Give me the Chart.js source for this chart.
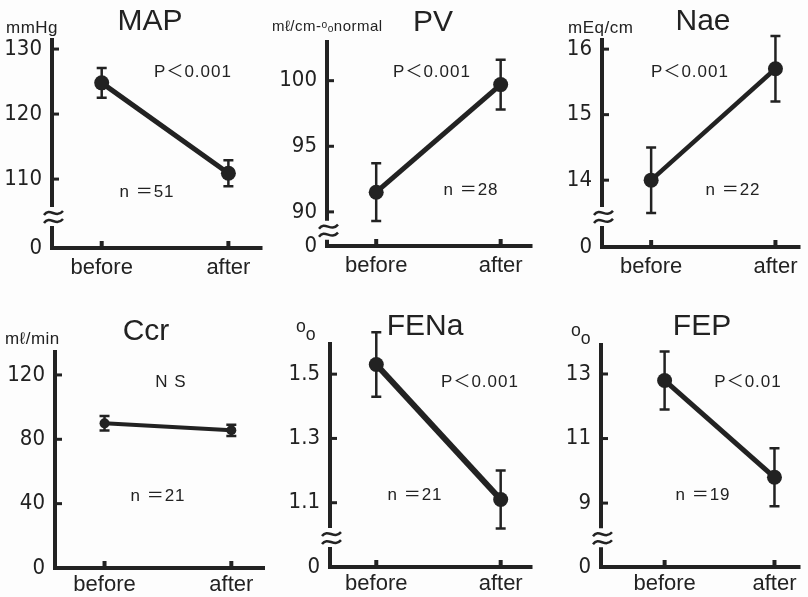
<!DOCTYPE html>
<html>
<head>
<meta charset="utf-8">
<title>before / after</title>
<script src="https://cdn.jsdelivr.net/npm/chart.js@4.4.1/dist/chart.umd.min.js"></script>
<style>
  body { margin:0; background:#fff; }
  #wrap { position:relative; width:808px; height:597px; overflow:hidden; background:#fdfdfd; }
  #wrap canvas { position:absolute; }
</style>
</head>
<body>
<div id="wrap"></div>
<script>
// ---------------- Data ----------------
const groups = ["before", "after"];
const titles = ["MAP", "PV", "Nae", "Ccr", "FENa", "FEP"];
const units = ["mmHg", "mℓ/cm-ᵒₒnormal", "mEq/cm", "mℓ/min", "ᵒₒ", "ᵒₒ"];
const pTexts = ["P＜0.001", "P＜0.001", "P＜0.001", "N S", "P＜0.001", "P＜0.01"];
const nTexts = ["n ＝51", "n ＝28", "n ＝22", "n ＝21", "n ＝21", "n ＝19"];

const mapMean = [124.8, 110.9],  mapSem = [2.3, 2.0];
const pvMean = [91.5, 99.7],     pvSem = [2.2, 1.9];
const naeMean = [14.0, 15.7],    naeSem = [0.5, 0.5];
const ccrMean = [89.9, 85.6],    ccrSem = [4.5, 3.5];
const fenaMean = [1.53, 1.11],   fenaSem = [0.10, 0.09];
const fepMean = [12.8, 9.8],     fepSem = [0.9, 0.9];

const mapTicks = [110, 120, 130];
const pvTicks = [90, 95, 100];
const naeTicks = [14, 15, 16];
const ccrTicks = [0, 40, 80, 120];
const fenaTicks = [1.1, 1.3, 1.5];
const fepTicks = [9, 11, 13];
const breakLabel = "0";

// ---------------- Layout (page px) ----------------
const panels = [
  { mean: mapMean, sem: mapSem, ticks: mapTicks, yMin: 99.4, yMax: 131.7, brk: true,
    cell: [0, 0, 270, 300], box: [52, 38, 268, 248], xPx: [103, 233], xPad: 7,
    titleAt: [150, 22], unitAt: [6, 28], unitSize: 17, pAt: [193, 72], nAt: [147, 192], lw: 5, r: 7.5 },
  { mean: pvMean, sem: pvSem, ticks: pvTicks, yMin: 87.4, yMax: 103.1, brk: true,
    cell: [270, 0, 270, 300], box: [327, 40, 540, 246], xPx: [378, 507], xPad: 7,
    titleAt: [433, 23], unitAt: [272, 27], unitSize: 15, pAt: [432, 72], nAt: [471, 190], lw: 5, r: 7.5 },
  { mean: naeMean, sem: naeSem, ticks: naeTicks, yMin: 12.98, yMax: 16.17, brk: true,
    cell: [540, 0, 268, 300], box: [602, 38, 808, 247], xPx: [653, 782], xPad: 7,
    titleAt: [703, 22], unitAt: [568, 28], unitSize: 17, pAt: [690, 72], nAt: [733, 190], lw: 4.5, r: 7.5 },
  { mean: ccrMean, sem: ccrSem, ticks: ccrTicks, yMin: 0, yMax: 135.5, brk: false,
    cell: [0, 300, 270, 297], box: [55, 350, 267, 568], xPx: [105, 233], xPad: 4,
    titleAt: [146, 332], unitAt: [5, 339], unitSize: 17, pAt: [171, 382], nAt: [158, 496], lw: 4, r: 5 },
  { mean: fenaMean, sem: fenaSem, ticks: fenaTicks, yMin: 0.90, yMax: 1.60, brk: true,
    cell: [270, 300, 270, 297], box: [330, 342, 540, 567], xPx: [378, 507], xPad: 4,
    titleAt: [425, 327], unitAt: [296, 331], unitSize: 26, pAt: [480, 382], nAt: [415, 495], lw: 6, r: 7.5 },
  { mean: fepMean, sem: fepSem, ticks: fepTicks, yMin: 7.02, yMax: 13.96, brk: true,
    cell: [540, 300, 268, 297], box: [601, 343, 808, 567], xPx: [667, 781], xPad: 4,
    titleAt: [702, 327], unitAt: [571, 335], unitSize: 26, pAt: [748, 382], nAt: [703, 495], lw: 5, r: 7.5 }
];

const ink = "#222";
const narrow = "'Liberation Sans Narrow', 'DejaVu Sans Condensed', sans-serif";
const sans = "'Liberation Sans', Arial, 'Noto Sans CJK JP', sans-serif";
const Y_W = 46, X_H = 26;

// ---------------- Axes, breaks, error bars, labels ----------------
const paperPlugin = {
  id: "paper",
  beforeDatasetsDraw(chart, args, opts) {
    const p = panels[opts.idx];
    const ctx = chart.ctx, xs = chart.scales.x, ys = chart.scales.y;
    const { left, right, top, bottom } = chart.chartArea;
    ctx.save();
    ctx.strokeStyle = ink;
    ctx.lineCap = "butt";

    // y axis (with optional break)
    ctx.lineWidth = 4;
    ctx.beginPath();
    if (p.brk) {
      const low = ys.getPixelForValue(p.ticks[0]);
      const by = bottom - 0.45 * (bottom - low);
      ctx.moveTo(left, top); ctx.lineTo(left, by - 10);
      ctx.moveTo(left, by + 9); ctx.lineTo(left, bottom + 2);
      ctx.stroke();
      ctx.lineWidth = 2.5;
      [-4, 4].forEach(d => {
        ctx.beginPath();
        ctx.moveTo(left - 8, by + d + 2);
        ctx.bezierCurveTo(left - 2, by + d - 6, left + 4, by + d + 6, left + 11, by + d - 2);
        ctx.stroke();
      });
    } else {
      ctx.moveTo(left, top); ctx.lineTo(left, bottom + 2);
      ctx.stroke();
    }

    // x axis
    ctx.lineWidth = 4;
    ctx.beginPath();
    ctx.moveTo(left - 2, bottom); ctx.lineTo(right, bottom);
    ctx.stroke();

    // y tick stubs
    ctx.lineWidth = 3;
    p.ticks.forEach(v => {
      if (v === p.yMin) return;
      const y = ys.getPixelForValue(v);
      ctx.beginPath(); ctx.moveTo(left, y); ctx.lineTo(left + 7, y); ctx.stroke();
    });
    // x tick stubs
    ctx.lineWidth = 4;
    groups.forEach((g, i) => {
      const x = xs.getPixelForValue(i);
      ctx.beginPath(); ctx.moveTo(x, bottom); ctx.lineTo(x, bottom - 7); ctx.stroke();
    });

    // error bars
    ctx.lineWidth = 2.5;
    p.mean.forEach((m, i) => {
      const x = xs.getPixelForValue(i);
      const y1 = ys.getPixelForValue(m + p.sem[i]);
      const y2 = ys.getPixelForValue(m - p.sem[i]);
      ctx.beginPath();
      ctx.moveTo(x, y1); ctx.lineTo(x, y2);
      ctx.moveTo(x - 5, y1); ctx.lineTo(x + 5, y1);
      ctx.moveTo(x - 5, y2); ctx.lineTo(x + 5, y2);
      ctx.stroke();
    });
    ctx.restore();
  },
  afterDraw(chart, args, opts) {
    const i = opts.idx, p = panels[i];
    const ctx = chart.ctx, ox = p.cell[0], oy = p.cell[1];
    ctx.save();
    ctx.fillStyle = ink;
    ctx.textBaseline = "middle";
    ctx.textAlign = "center";
    ctx.font = "30px " + sans;
    ctx.fillText(titles[i], p.titleAt[0] - ox, p.titleAt[1] - oy);
    ctx.font = "17px " + sans;
    ctx.letterSpacing = "1px";
    ctx.fillText(pTexts[i], p.pAt[0] - ox, p.pAt[1] - oy);
    ctx.fillText(nTexts[i], p.nAt[0] - ox, p.nAt[1] - oy);
    ctx.textAlign = "left";
    ctx.font = p.unitSize + "px " + sans + ", 'DejaVu Sans'";
    ctx.letterSpacing = p.unitSize > 20 ? "0px" : "0.5px";
    ctx.fillText(units[i], p.unitAt[0] - ox, p.unitAt[1] - oy);
    ctx.restore();
  }
};

// ---------------- Charts ----------------
const wrap = document.getElementById("wrap");
panels.forEach((p, idx) => {
  const [cx, cy, cw, ch] = p.cell;
  const [bl, bt, br, bb] = p.box;
  const cv = document.createElement("canvas");
  cv.width = cw; cv.height = ch;
  cv.style.left = cx + "px"; cv.style.top = cy + "px";
  cv.style.width = cw + "px"; cv.style.height = ch + "px";
  wrap.appendChild(cv);

  const span = p.xPx[1] - p.xPx[0];
  const xMin = (bl - p.xPx[0]) / span;
  const xMax = 1 + (br - p.xPx[1]) / span;
  const yTickVals = p.ticks.includes(p.yMin) ? p.ticks.slice() : [p.yMin].concat(p.ticks);

  new Chart(cv, {
    type: "line",
    data: {
      datasets: [{
        data: p.mean.map((v, i) => ({ x: i, y: v })),
        borderColor: ink,
        borderWidth: p.lw,
        pointRadius: p.r,
        pointBackgroundColor: ink,
        pointBorderWidth: 0,
        pointHoverRadius: p.r,
        clip: false
      }]
    },
    options: {
      responsive: false,
      animation: false,
      devicePixelRatio: 1,
      layout: { padding: { left: bl - cx - Y_W, right: cx + cw - br, top: bt - cy, bottom: cy + ch - bb - X_H } },
      plugins: { legend: { display: false }, tooltip: { enabled: false }, paper: { idx: idx } },
      scales: {
        x: {
          type: "linear", min: xMin, max: xMax,
          grid: { display: false, drawTicks: false }, border: { display: false },
          afterBuildTicks: s => { s.ticks = groups.map((g, i) => ({ value: i })); },
          afterFit: s => { s.height = X_H; },
          ticks: { callback: v => groups[v], color: ink, font: { family: sans, size: 22 }, padding: p.xPad, maxRotation: 0, autoSkip: false }
        },
        y: {
          type: "linear", min: p.yMin, max: p.yMax,
          grid: { display: false, drawTicks: false }, border: { display: false },
          afterBuildTicks: s => { s.ticks = yTickVals.map(v => ({ value: v })); },
          afterFit: s => { s.width = Y_W; },
          ticks: { callback: v => (v === p.yMin ? breakLabel : String(v)), color: ink, font: { family: narrow, size: 22 }, padding: 10, autoSkip: false }
        }
      }
    },
    plugins: [paperPlugin]
  });
});
</script>
</body>
</html>
